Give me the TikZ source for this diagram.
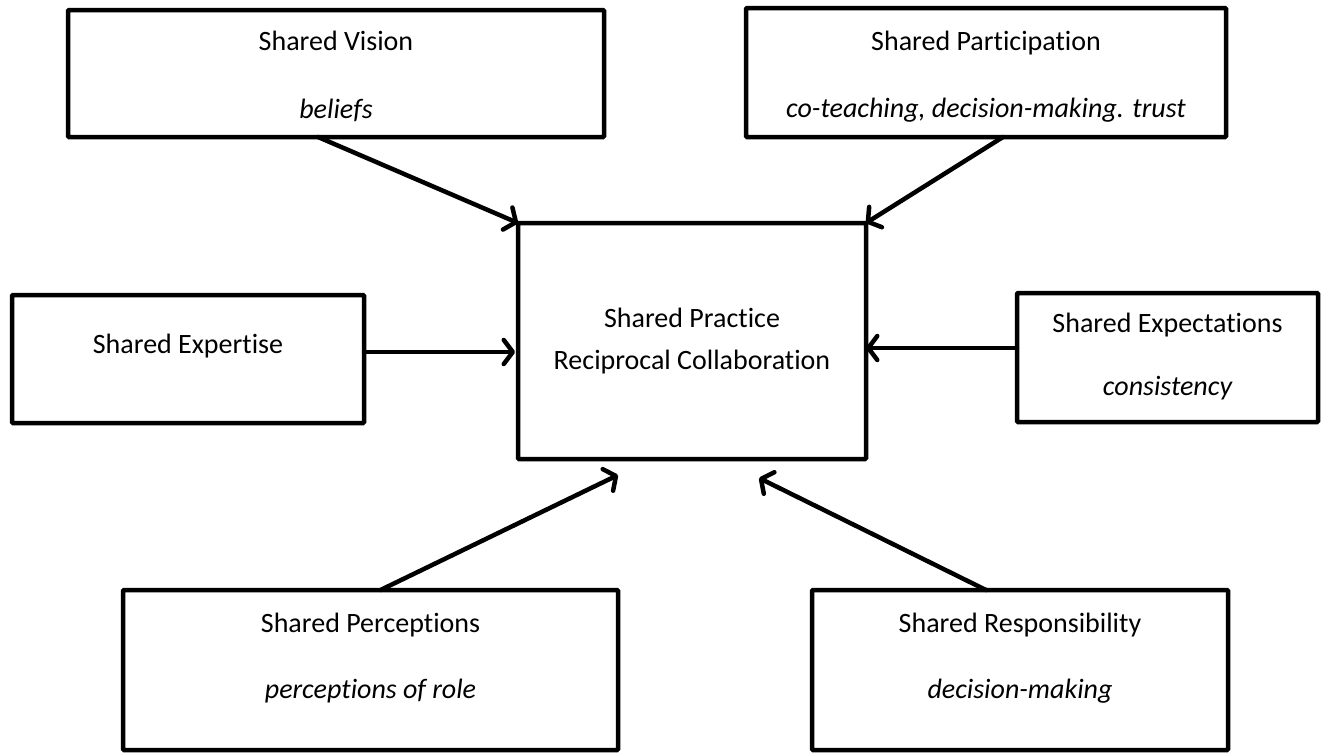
\documentclass[tikz,border=0pt]{standalone}
\usepackage{fontspec}
\setmainfont{Carlito}[Ligatures=NoCommon]
\usetikzlibrary{arrows.meta,calc}
\begin{document}
\begin{tikzpicture}[x=1pt,y=-1pt,
  box/.style={draw=black, line width=4.5pt, rounded corners=1pt, inner sep=0pt, outer sep=0pt},
  txt/.style={font=\fontsize{28}{33}\selectfont, inner sep=0pt, anchor=base},
  itx/.style={font=\fontsize{28}{33}\selectfont\itshape, inner sep=0pt, anchor=base},
  arr/.style={line width=4.5pt, line cap=round, -{Straight Barb[length=9pt,width=24pt,round]}}]
\useasboundingbox (0,0) rectangle (1324,753);
% boxes
\node[box, minimum width=536pt, minimum height=127pt] (vision) at (336,73.5) {};
\node[box, minimum width=480pt, minimum height=129pt] (part) at (986,72.5) {};
\node[box, minimum width=348pt, minimum height=236pt] (center) at (692,341) {};
\node[box, minimum width=352pt, minimum height=128pt] (expertise) at (188,359) {};
\node[box, minimum width=301pt, minimum height=129pt] (expect) at (1167.5,357.5) {};
\node[box, minimum width=495pt, minimum height=160pt] (perc) at (370.5,670) {};
\node[box, minimum width=416pt, minimum height=160pt] (resp) at (1020,670) {};
% texts
\node[txt] (visionT) at (336,50) {Shared Vision};
\node[itx] (visionS) at (336,118) {beliefs};
\node[txt] (partT) at (986,50) {Shared Participation};
\node[itx] (partS) at (986,117) {co-teaching, decision-making. trust};
\node[txt] (centerT) at (692,327) {Shared Practice};
\node[txt] (centerS) at (692,369) {Reciprocal Collaboration};
\node[txt] (expertiseT) at (188,353) {Shared Expertise};
\node[txt] (expectT) at (1167.5,332) {Shared Expectations};
\node[itx] (expectS) at (1167.5,395) {consistency};
\node[txt] (percT) at (370.5,632) {Shared Perceptions};
\node[itx] (percS) at (370.5,698) {perceptions of role};
\node[txt] (respT) at (1020,632) {Shared Responsibility};
\node[itx] (respS) at (1020,698) {decision-making};
% arrows
\draw[arr] ($(vision.south west)+(250,0)$) -- (center.north west);
\draw[arr] ($(part.south west)+(257,0)$) -- (center.north east);
\draw[arr] ($(expertise.east)+(0,-7)$) -- ($(center.west)+(-3,11)$);
\draw[arr] ($(expect.west)+(0,-9.5)$) -- ($(center.east)+(0,7)$);
\draw[arr] ($(perc.north)+(10,0)$) -- ($(center.south)+(-74,16)$);
\draw[arr] ($(resp.north)+(-34,0)$) -- ($(center.south)+(67,19)$);
\end{tikzpicture}
\end{document}
